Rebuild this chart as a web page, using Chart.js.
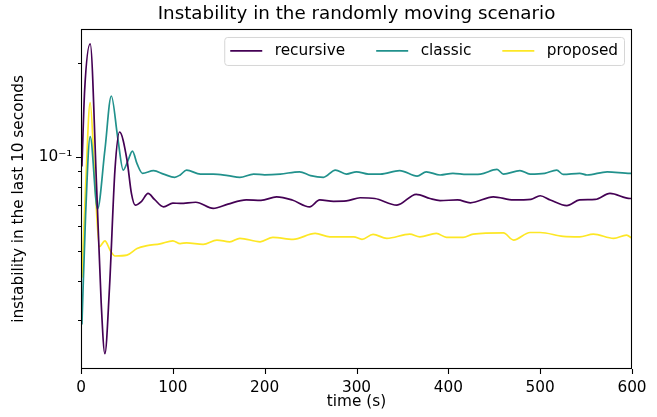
<!DOCTYPE html>
<html>
<head>
<meta charset="utf-8">
<script src="https://cdn.jsdelivr.net/npm/chart.js@4"></script>
<style>
  html, body { margin: 0; padding: 0; background: #fff; }
</style>
</head>
<body>
<canvas id="chart" width="657" height="417"></canvas>
<script>
// values
const seriesNames = ['recursive', 'classic', 'proposed'];
const seriesColors = ['#440154', '#21918c', '#fde725'];

const recursiveTime = [1, 4, 10, 17, 22, 26, 31, 37, 42, 50, 55, 59, 66, 73, 80, 90, 100, 108, 125, 144, 160, 180, 196, 213, 230, 249, 260, 275, 289, 304, 320, 344, 365, 380, 391, 410, 424, 449, 471, 490, 500, 511, 529, 543, 560, 576, 598, 600];
const recursiveValue = [0.093, 0.164, 0.230, 0.080, 0.034, 0.0234, 0.038, 0.091, 0.120, 0.098, 0.076, 0.070, 0.072, 0.0763, 0.073, 0.0691, 0.071, 0.0709, 0.0715, 0.0683, 0.0705, 0.0727, 0.0725, 0.0744, 0.0727, 0.0691, 0.0727, 0.0720, 0.0722, 0.0739, 0.0735, 0.0700, 0.0758, 0.0735, 0.0724, 0.0727, 0.0712, 0.0744, 0.0727, 0.0730, 0.0750, 0.0727, 0.0697, 0.0727, 0.0730, 0.0763, 0.0735, 0.0735];

const classicTime = [1, 5, 10, 18, 26, 33, 40, 46, 51, 56, 61, 67, 79, 90, 102, 108, 115, 130, 144, 160, 173, 188, 200, 217, 238, 250, 264, 277, 289, 300, 313, 326, 347, 366, 376, 391, 405, 420, 435, 453, 460, 478, 489, 505, 518, 525, 543, 551, 573, 598, 600];
const classicValue = [0.029, 0.065, 0.116, 0.068, 0.105, 0.1565, 0.115, 0.0906, 0.097, 0.1043, 0.095, 0.0885, 0.0902, 0.088, 0.0859, 0.0874, 0.0906, 0.088, 0.088, 0.087, 0.0859, 0.088, 0.0875, 0.088, 0.0895, 0.087, 0.0859, 0.0906, 0.088, 0.0895, 0.088, 0.088, 0.0903, 0.0867, 0.0895, 0.0874, 0.0885, 0.0878, 0.088, 0.0911, 0.088, 0.0903, 0.088, 0.0885, 0.0906, 0.0878, 0.0885, 0.0874, 0.0895, 0.0885, 0.0885];

const proposedTime = [1, 5, 10, 15, 20, 26, 32, 37, 50, 61, 72, 86, 100, 108, 115, 133, 148, 162, 173, 195, 209, 231, 255, 271, 297, 306, 318, 333, 358, 369, 387, 398, 416, 427, 460, 471, 489, 500, 525, 543, 558, 580, 594, 600];
const proposedValue = [0.041, 0.08, 0.149, 0.085, 0.0515, 0.0538, 0.050, 0.0481, 0.0484, 0.0508, 0.0519, 0.0526, 0.0538, 0.0527, 0.053, 0.0524, 0.0541, 0.0534, 0.0548, 0.0534, 0.0552, 0.0544, 0.0568, 0.0554, 0.0554, 0.0544, 0.0564, 0.0548, 0.0565, 0.0554, 0.0568, 0.0552, 0.0552, 0.0565, 0.057, 0.0541, 0.0572, 0.0572, 0.0556, 0.0554, 0.0565, 0.0548, 0.0561, 0.0548];

const xTicks = [0, 100, 200, 300, 400, 500, 600];
const yTicks = [0.03, 0.04, 0.05, 0.06, 0.07, 0.08, 0.09, 0.1, 0.2];

const FONT = "'DejaVu Sans', sans-serif";

const toPoints = (t, v) => t.map((x, i) => ({ x: x, y: v[i] }));

// frame, tick marks and legend box, matplotlib style
const framePlugin = {
    id: 'frame',
    afterDraw(chart) {
        const { ctx, chartArea: a, scales } = chart;
        const x = scales.x, y = scales.y;
        const left = Math.round(a.left), right = Math.round(a.right);
        const top = Math.round(a.top), bottom = Math.round(a.bottom);
        ctx.save();
        ctx.strokeStyle = '#000';
        ctx.lineWidth = 1.1;
        ctx.beginPath();
        x.ticks.forEach(t => {
            const px = Math.round(x.getPixelForValue(t.value)) + 0.5;
            ctx.moveTo(px, bottom);
            ctx.lineTo(px, bottom + 5);
        });
        y.ticks.forEach(t => {
            const py = Math.round(y.getPixelForValue(t.value)) + 0.5;
            const len = t.value === 0.1 ? 5 : 3;
            ctx.moveTo(left, py);
            ctx.lineTo(left - len, py);
        });
        ctx.stroke();
        ctx.strokeRect(left + 0.5, top + 0.5, right - left - 1, bottom - top - 1);

        // legend
        ctx.font = '15.3px ' + FONT;
        const handle = 32, pad = 12.5, gap = 31;
        let w = 6 + 6;
        seriesNames.forEach((n, i) => {
            w += handle + pad + ctx.measureText(n).width + (i < seriesNames.length - 1 ? gap : 0);
        });
        const bx = a.right - 8 - w, by = a.top + 8, bh = 28;
        ctx.fillStyle = 'rgba(255,255,255,0.8)';
        ctx.strokeStyle = '#d6d6d6';
        ctx.lineWidth = 1;
        ctx.beginPath();
        ctx.roundRect(bx + 0.5, by + 0.5, w, bh, 3);
        ctx.fill();
        ctx.stroke();
        let cx = bx + 6;
        const cy = by + bh / 2;
        ctx.textBaseline = 'middle';
        seriesNames.forEach((n, i) => {
            ctx.strokeStyle = seriesColors[i];
            ctx.lineWidth = 1.8;
            ctx.beginPath();
            ctx.moveTo(cx, cy);
            ctx.lineTo(cx + handle, cy);
            ctx.stroke();
            cx += handle + pad;
            ctx.fillStyle = '#000';
            ctx.fillText(n, cx, cy);
            cx += ctx.measureText(n).width + gap;
        });
        ctx.restore();
    }
};

new Chart(document.getElementById('chart'), {
    type: 'line',
    data: {
        datasets: [
            { label: seriesNames[0], data: toPoints(recursiveTime, recursiveValue), borderColor: seriesColors[0] },
            { label: seriesNames[1], data: toPoints(classicTime, classicValue), borderColor: seriesColors[1] },
            { label: seriesNames[2], data: toPoints(proposedTime, proposedValue), borderColor: seriesColors[2] }
        ]
    },
    options: {
        responsive: false,
        animation: false,
        parsing: false,
        layout: { padding: { left: 0, right: 25, top: 0, bottom: 0 } },
        elements: {
            point: { radius: 0 },
            line: { borderWidth: 1.7, cubicInterpolationMode: 'monotone', fill: false }
        },
        plugins: {
            legend: { display: false },
            tooltip: { enabled: false },
            title: {
                display: true,
                fullSize: false,
                text: 'Instability in the randomly moving scenario',
                color: '#000',
                font: { family: FONT, size: 18.3, weight: 'normal' },
                padding: { top: 3, bottom: 4 }
            }
        },
        scales: {
            x: {
                type: 'linear',
                min: 0,
                max: 600,
                afterFit: s => { s.height = 48; },
                afterBuildTicks: s => { s.ticks = xTicks.map(v => ({ value: v })); },
                grid: { display: false, drawTicks: false },
                border: { display: false },
                ticks: { color: '#000', font: { family: FONT, size: 15.3 }, padding: 10, maxRotation: 0 },
                title: {
                    display: true, text: 'time (s)', color: '#000',
                    font: { family: FONT, size: 15.3 }, padding: { top: 0, bottom: 6 }
                }
            },
            y: {
                type: 'logarithmic',
                min: 0.0209,
                max: 0.2566,
                bounds: 'data',
                afterFit: s => { s.width = 81; },
                afterBuildTicks: s => { s.ticks = yTicks.map(v => ({ value: v, major: v === 0.1 })); },
                grid: { display: false, drawTicks: false },
                border: { display: false },
                ticks: {
                    color: '#000', font: { family: FONT, size: 15.3 }, padding: 8.5, autoSkip: false,
                    callback: v => (v === 0.1 ? '10\u207B\u00B9' : '')
                },
                title: {
                    display: true, text: 'instability in the last 10 seconds', color: '#000',
                    font: { family: FONT, size: 15.3 }, padding: { top: 10, bottom: 0 }
                }
            }
        }
    },
    plugins: [framePlugin]
});
</script>
</body>
</html>
